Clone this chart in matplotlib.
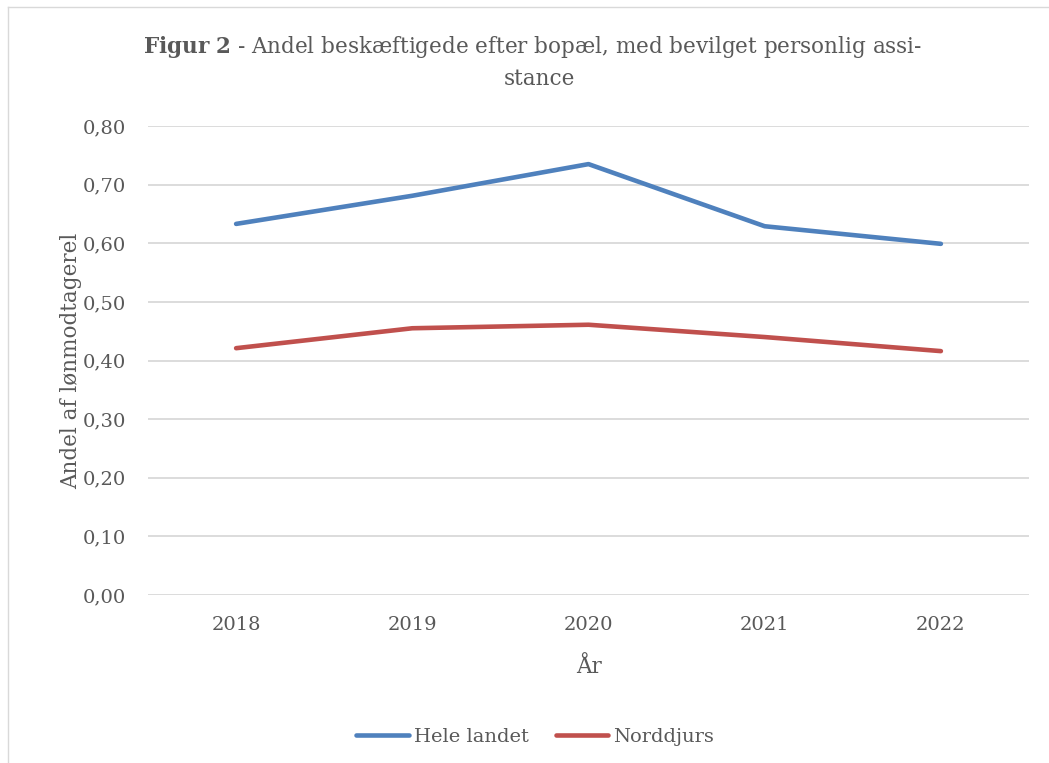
import matplotlib.pyplot as plt
from matplotlib.lines import Line2D

# Data
years = ['2018', '2019', '2020', '2021', '2022']
hele_landet = [0.633, 0.681, 0.735, 0.629, 0.599]
norddjurs = [0.421, 0.455, 0.461, 0.440, 0.416]
yticks = [0.0, 0.1, 0.2, 0.3, 0.4, 0.5, 0.6, 0.7, 0.8]

TXT = '#595959'
plt.rcParams['font.family'] = ['DejaVu Serif']
plt.rcParams['mathtext.fontset'] = 'dejavuserif'

fig = plt.figure(figsize=(10.49, 7.63), dpi=100)
ax = fig.add_axes([148 / 1049, 1 - 595 / 763, 881 / 1049, 469 / 763])

x = range(len(years))
ax.plot(x, hele_landet, color='#4F81BD', lw=3.3, solid_capstyle='round', label='Hele landet')
ax.plot(x, norddjurs, color='#C0504D', lw=3.3, solid_capstyle='round', label='Norddjurs')

ax.set_xlim(-0.5, 4.5)
ax.set_ylim(0, 0.8)
ax.set_yticks(yticks)
ax.set_yticklabels([f'{v:.2f}'.replace('.', ',') for v in yticks])
ax.set_xticks(list(x))
ax.set_xticklabels(years)
ax.tick_params(length=0, labelsize=14, colors=TXT)
ax.tick_params(axis='y', pad=16)
ax.tick_params(axis='x', pad=15)
ax.grid(axis='y', color='#d9d9d9', lw=1.3)
ax.set_axisbelow(True)
for s in ax.spines.values():
    s.set_visible(False)

ax.set_xlabel('År', fontsize=15.5, color=TXT, labelpad=16)
ax.set_ylabel('Andel af lønmodtagerel', fontsize=15.5, color=TXT, labelpad=0)

fig.text(0.508, 0.938, r'$\mathbf{Figur\ 2}$' + ' - Andel beskæftigede efter bopæl, med bevilget personlig assi-',
         ha='center', va='center', fontsize=15.5, color=TXT)
fig.text(0.514, 0.897, 'stance', ha='center', va='center', fontsize=15.5, color=TXT)

fig.legend(loc='center', bbox_to_anchor=(0.51, 1 - 737 / 763), ncol=2, frameon=False,
           fontsize=14, labelcolor=TXT, handlelength=2.7, handletextpad=0.25, columnspacing=1.4)

# chart frame (top and left edges visible)
fig.add_artist(Line2D([8 / 1049, 1], [1 - 7 / 763, 1 - 7 / 763], color='#d9d9d9', lw=1))
fig.add_artist(Line2D([8 / 1049, 8 / 1049], [0, 1 - 7 / 763], color='#d9d9d9', lw=1))

fig.savefig('out.png', dpi=100)
